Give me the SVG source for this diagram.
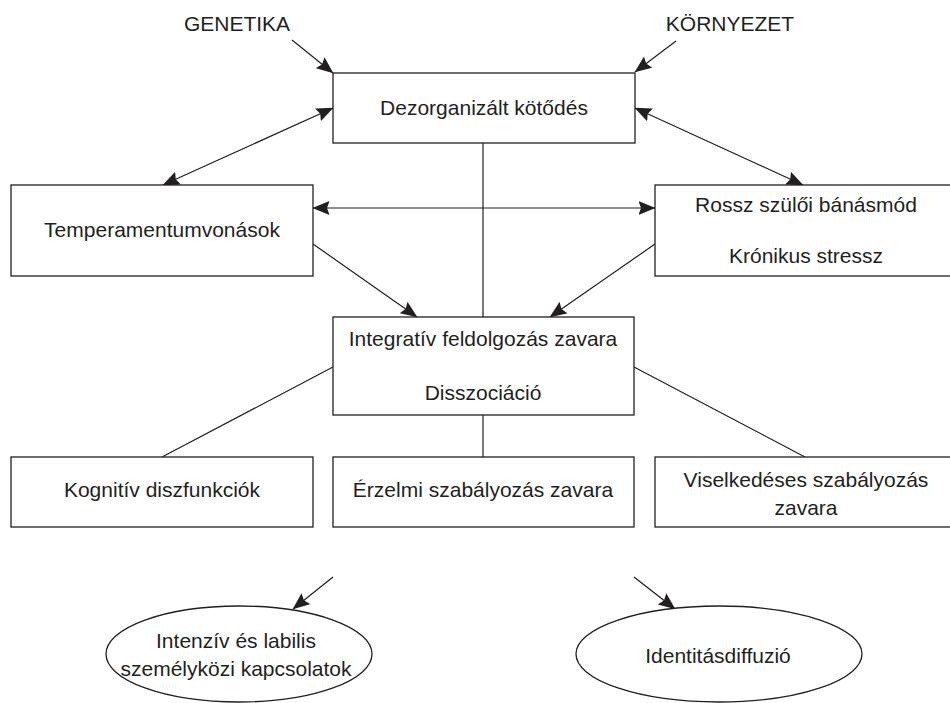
<svg xmlns="http://www.w3.org/2000/svg" width="950" height="703" viewBox="0 0 950 703">
<defs>
<style>
.box{fill:#fff;stroke:#231f20;stroke-width:1.3}
.ell{fill:#fff;stroke:#231f20;stroke-width:1.3}
.ln{fill:none;stroke:#231f20;stroke-width:1.2}
.t{font-family:"Liberation Sans",Arial,sans-serif;font-size:21px;fill:#231f20;text-anchor:middle}
</style>
<marker id="ah" viewBox="0 0 17 14" refX="16.5" refY="7" markerWidth="17" markerHeight="14" markerUnits="userSpaceOnUse" orient="auto-start-reverse">
<path d="M0,0 L17,7 L0,14 L2.5,7 z" fill="#231f20"/>
</marker>
</defs>
<rect width="950" height="703" fill="#fff"/>
<g id="connectors">
<line class="ln" x1="292" y1="40" x2="333" y2="73" marker-end="url(#ah)"/>
<line class="ln" x1="676" y1="41" x2="635" y2="72" marker-end="url(#ah)"/>
<line class="ln" x1="333" y1="108" x2="163" y2="185" marker-start="url(#ah)" marker-end="url(#ah)"/>
<line class="ln" x1="635" y1="108" x2="803" y2="185" marker-start="url(#ah)" marker-end="url(#ah)"/>
<line class="ln" x1="313" y1="208" x2="655" y2="208" marker-start="url(#ah)" marker-end="url(#ah)"/>
<line class="ln" x1="313" y1="244" x2="417" y2="317" marker-end="url(#ah)"/>
<line class="ln" x1="655" y1="244" x2="550" y2="317" marker-end="url(#ah)"/>
<line class="ln" x1="483" y1="143" x2="483" y2="317"/>
<line class="ln" x1="333" y1="367" x2="162" y2="457"/>
<line class="ln" x1="634" y1="367" x2="805" y2="457"/>
<line class="ln" x1="483" y1="415" x2="483" y2="457"/>
<line class="ln" x1="333" y1="577" x2="293" y2="609" marker-end="url(#ah)"/>
<line class="ln" x1="634" y1="577" x2="675" y2="609" marker-end="url(#ah)"/>
</g>
<g id="genetika"><text class="t" x="237" y="31">GENETIKA</text></g>
<g id="kornyezet"><text class="t" x="730" y="31">KÖRNYEZET</text></g>
<g id="dezorganizalt">
<rect class="box" x="333" y="73" width="302" height="70"/>
<text class="t" x="484" y="115">Dezorganizált kötődés</text>
</g>
<g id="temperamentum">
<rect class="box" x="11" y="185" width="302" height="91"/>
<text class="t" x="162" y="237">Temperamentumvonások</text>
</g>
<g id="rossz">
<rect class="box" x="655" y="185" width="302" height="91"/>
<text class="t" x="806" y="212">Rossz szülői bánásmód</text>
<text class="t" x="806" y="263">Krónikus stressz</text>
</g>
<g id="integrativ">
<rect class="box" x="333" y="317" width="301" height="98"/>
<text class="t" x="483" y="346">Integratív feldolgozás zavara</text>
<text class="t" x="483" y="400">Disszociáció</text>
</g>
<g id="kognitiv">
<rect class="box" x="11" y="457" width="302" height="70"/>
<text class="t" x="162" y="497">Kognitív diszfunkciók</text>
</g>
<g id="erzelmi">
<rect class="box" x="333" y="457" width="301" height="70"/>
<text class="t" x="483" y="497">Érzelmi szabályozás zavara</text>
</g>
<g id="viselkedeses">
<rect class="box" x="655" y="457" width="302" height="70"/>
<text class="t" x="806" y="487">Viselkedéses szabályozás</text>
<text class="t" x="806" y="515">zavara</text>
</g>
<g id="intenziv">
<ellipse class="ell" cx="239" cy="654" rx="133" ry="48"/>
<text class="t" x="236" y="648">Intenzív és labilis</text>
<text class="t" x="236" y="676">személyközi kapcsolatok</text>
</g>
<g id="identitas">
<ellipse class="ell" cx="719" cy="654" rx="143" ry="48"/>
<text class="t" x="718" y="663">Identitásdiffuzió</text>
</g>
</svg>
